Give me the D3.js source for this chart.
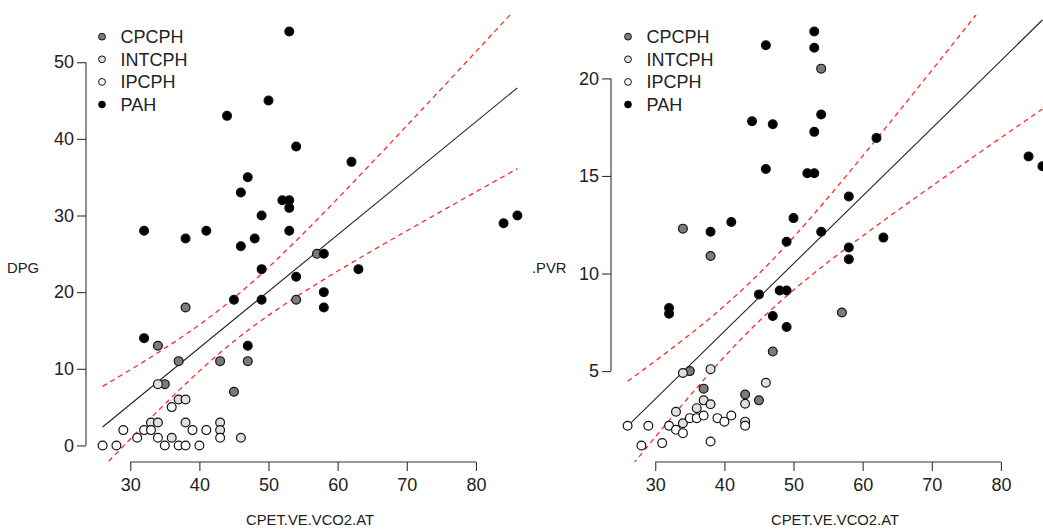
<!DOCTYPE html>
<html>
<head>
<meta charset="utf-8">
<script src="https://cdn.jsdelivr.net/npm/d3@7"></script>
<style>
  html, body { margin: 0; padding: 0; background: #fff; }
  svg { display: block; font-family: "Liberation Sans", Arial, Helvetica, sans-serif; }
</style>
</head>
<body>
<svg id="chart" width="1043" height="531"></svg>
<script>
// ---------------- data ----------------
const groups = ["CPCPH", "INTCPH", "IPCPH", "PAH"];
const groupFill = ["#7b7b7b", "#e0e0e0", "#ffffff", "#000000"];

// subject-level values (CPET.VE.VCO2.AT, DPG, PVR, group)
const veVco2 = [
  57, 54, 38, 34, 37, 43, 47, 35, 45,
  33, 34, 34, 36, 37, 38, 38, 43, 43, 46,
  26, 28, 29, 31, 32, 33, 34, 35, 36, 37, 38, 39, 40, 41, 43,
  32, 32, 38, 41, 44, 45, 46, 46, 47, 47, 48, 49, 49, 49, 50, 52, 53, 53, 53, 53, 54, 54, 58, 58, 58, 62, 63, 84, 86
];
const dpg = [
  25, 19, 18, 13, 11, 11, 11, 8, 7,
  3, 8, 3, 1, 6, 6, 3, 3, 2, 1,
  0, 0, 2, 1, 2, 2, 1, 0, 5, 0, 0, 2, 0, 2, 1,
  28, 14, 27, 28, 43, 19, 33, 26, 35, 13, 27, 30, 23, 19, 45, 32, 54, 32, 31, 28, 39, 22, 25, 20, 18, 37, 23, 29, 30
];
const pvr = [
  8.0, 20.5, 10.9, 12.3, 4.1, 3.8, 6.0, 5.0, 3.5,
  2.92, 4.9, 2.33, 3.1, 3.5, 5.1, 3.3, 3.33, 2.41, 4.4,
  2.2, 1.19, 2.2, 1.31, 2.2, 1.99, 1.82, 2.59, 2.59, 2.72, 1.39, 2.59, 2.41, 2.72, 2.2,
  8.23, 7.94, 12.14, 12.64, 17.8, 8.93, 21.7, 15.36, 17.65, 7.82, 9.13, 11.63, 9.13, 7.26, 12.84, 15.14, 22.4, 21.57, 17.26, 15.14, 18.15, 12.14, 13.95, 11.33, 10.73, 16.95, 11.84, 16.0, 15.5
];
const groupIdx = [
  0, 0, 0, 0, 0, 0, 0, 0, 0,
  1, 1, 1, 1, 1, 1, 1, 1, 1, 1,
  2, 2, 2, 2, 2, 2, 2, 2, 2, 2, 2, 2, 2, 2, 2,
  3, 3, 3, 3, 3, 3, 3, 3, 3, 3, 3, 3, 3, 3, 3, 3, 3, 3, 3, 3, 3, 3, 3, 3, 3, 3, 3, 3, 3
];

const xTicks = [30, 40, 50, 60, 70, 80];
const dpgTicks = [0, 10, 20, 30, 40, 50];
const pvrTicks = [5, 10, 15, 20];
const xTitle = "CPET.VE.VCO2.AT";
const tCrit = 2.0; // 95% t quantile, df = n - 2

// ---------------- layout ----------------
const svg = d3.select("#chart");
const plotTop = 15, plotBottom = 462;
const tickFont = 18, titleFont = 14.8;
const panels = [
  { left: 86, right: 534, yVals: dpg, yTicks: dpgTicks, yLabel: "DPG", yLabelX: 23, yLabelAnchor: "middle" },
  { left: 611, right: 1059, yVals: pvr, yTicks: pvrTicks, yLabel: ".PVR", yLabelX: 532, yLabelAnchor: "start" }
];

function padExtent(v) {
  const [a, b] = d3.extent(v);
  const r = b - a;
  return [a - 0.04 * r, b + 0.04 * r];
}

function fit(xs, ys) {
  const n = xs.length;
  const mx = d3.mean(xs), my = d3.mean(ys);
  let sxx = 0, sxy = 0;
  for (let i = 0; i < n; i++) { sxx += (xs[i] - mx) ** 2; sxy += (xs[i] - mx) * (ys[i] - my); }
  const b = sxy / sxx, a = my - b * mx;
  let sse = 0;
  for (let i = 0; i < n; i++) sse += (ys[i] - a - b * xs[i]) ** 2;
  const s = Math.sqrt(sse / (n - 2));
  return { a, b, s, n, mx, sxx };
}

panels.forEach((p, pi) => {
  const x = d3.scaleLinear().domain(padExtent(veVco2)).range([p.left, p.right]);
  const y = d3.scaleLinear().domain(padExtent(p.yVals)).range([plotBottom, plotTop]);
  const g = svg.append("g");

  const clipId = "clip" + pi;
  svg.append("clipPath").attr("id", clipId).append("rect")
    .attr("x", p.left).attr("y", plotTop).attr("width", p.right - p.left).attr("height", plotBottom - plotTop);

  // x axis
  const xa = g.append("g").attr("transform", `translate(0,${plotBottom})`)
    .call(d3.axisBottom(x).tickValues(xTicks).tickSizeOuter(0).tickSize(9).tickPadding(7));
  xa.select(".domain").attr("d", `M${x(xTicks[0])},0H${x(xTicks[xTicks.length - 1])}`);
  xa.selectAll("line, path").attr("stroke", "#333").attr("stroke-width", 1.1);
  xa.selectAll("text").attr("font-size", tickFont).attr("fill", "#222").attr("font-family", "Liberation Sans, Arial, sans-serif");

  // y axis
  const ya = g.append("g").attr("transform", `translate(${p.left},0)`)
    .call(d3.axisLeft(y).tickValues(p.yTicks).tickSizeOuter(0).tickSize(9).tickPadding(3));
  ya.select(".domain").attr("d", `M0,${y(p.yTicks[0])}V${y(p.yTicks[p.yTicks.length - 1])}`);
  ya.selectAll("line, path").attr("stroke", "#333").attr("stroke-width", 1.1);
  ya.selectAll("text").attr("font-size", tickFont).attr("fill", "#222").attr("font-family", "Liberation Sans, Arial, sans-serif");

  // titles
  g.append("text").attr("x", (p.left + p.right) / 2).attr("y", 524.5)
    .attr("text-anchor", "middle").attr("font-size", titleFont).attr("fill", "#222").text(xTitle);
  g.append("text").attr("x", p.yLabelX).attr("y", 273)
    .attr("text-anchor", p.yLabelAnchor).attr("font-size", titleFont).attr("fill", "#222").text(p.yLabel);

  // regression + confidence band
  const f = fit(veVco2, p.yVals);
  const [x0, x1] = d3.extent(veVco2);
  const grid = d3.range(0, 201).map(i => x0 + (x1 - x0) * i / 200);
  const half = xv => tCrit * f.s * Math.sqrt(1 / f.n + (xv - f.mx) ** 2 / f.sxx);
  const line = d3.line().x(d => x(d[0])).y(d => y(d[1]));
  const plot = g.append("g").attr("clip-path", `url(#${clipId})`);
  plot.append("path").attr("d", line([[x0, f.a + f.b * x0], [x1, f.a + f.b * x1]]))
    .attr("fill", "none").attr("stroke", "#222").attr("stroke-width", 1.1);
  [1, -1].forEach(sgn => {
    plot.append("path").attr("d", line(grid.map(xv => [xv, f.a + f.b * xv + sgn * half(xv)])))
      .attr("fill", "none").attr("stroke", "#ff2a2a").attr("stroke-width", 1.3)
      .attr("stroke-dasharray", "5,4");
  });

  // points
  g.append("g").selectAll("circle").data(veVco2.map((v, i) => i)).join("circle")
    .attr("cx", i => x(veVco2[i])).attr("cy", i => y(p.yVals[i]))
    .attr("r", 4.4)
    .attr("fill", i => groupFill[groupIdx[i]])
    .attr("stroke", "#111").attr("stroke-width", 1.2);

  // legend
  const lx = pi === 0 ? 102 : 628;
  const leg = g.append("g");
  groups.forEach((name, k) => {
    const ly = 36.7 + k * 22.6;
    leg.append("circle").attr("cx", lx).attr("cy", ly).attr("r", 3.4)
      .attr("fill", groupFill[k]).attr("stroke", "#111").attr("stroke-width", 1);
    leg.append("text").attr("x", lx + 18.5).attr("y", ly + 6.5)
      .attr("font-size", tickFont).attr("fill", "#222").text(name);
  });
});
</script>
</body>
</html>
